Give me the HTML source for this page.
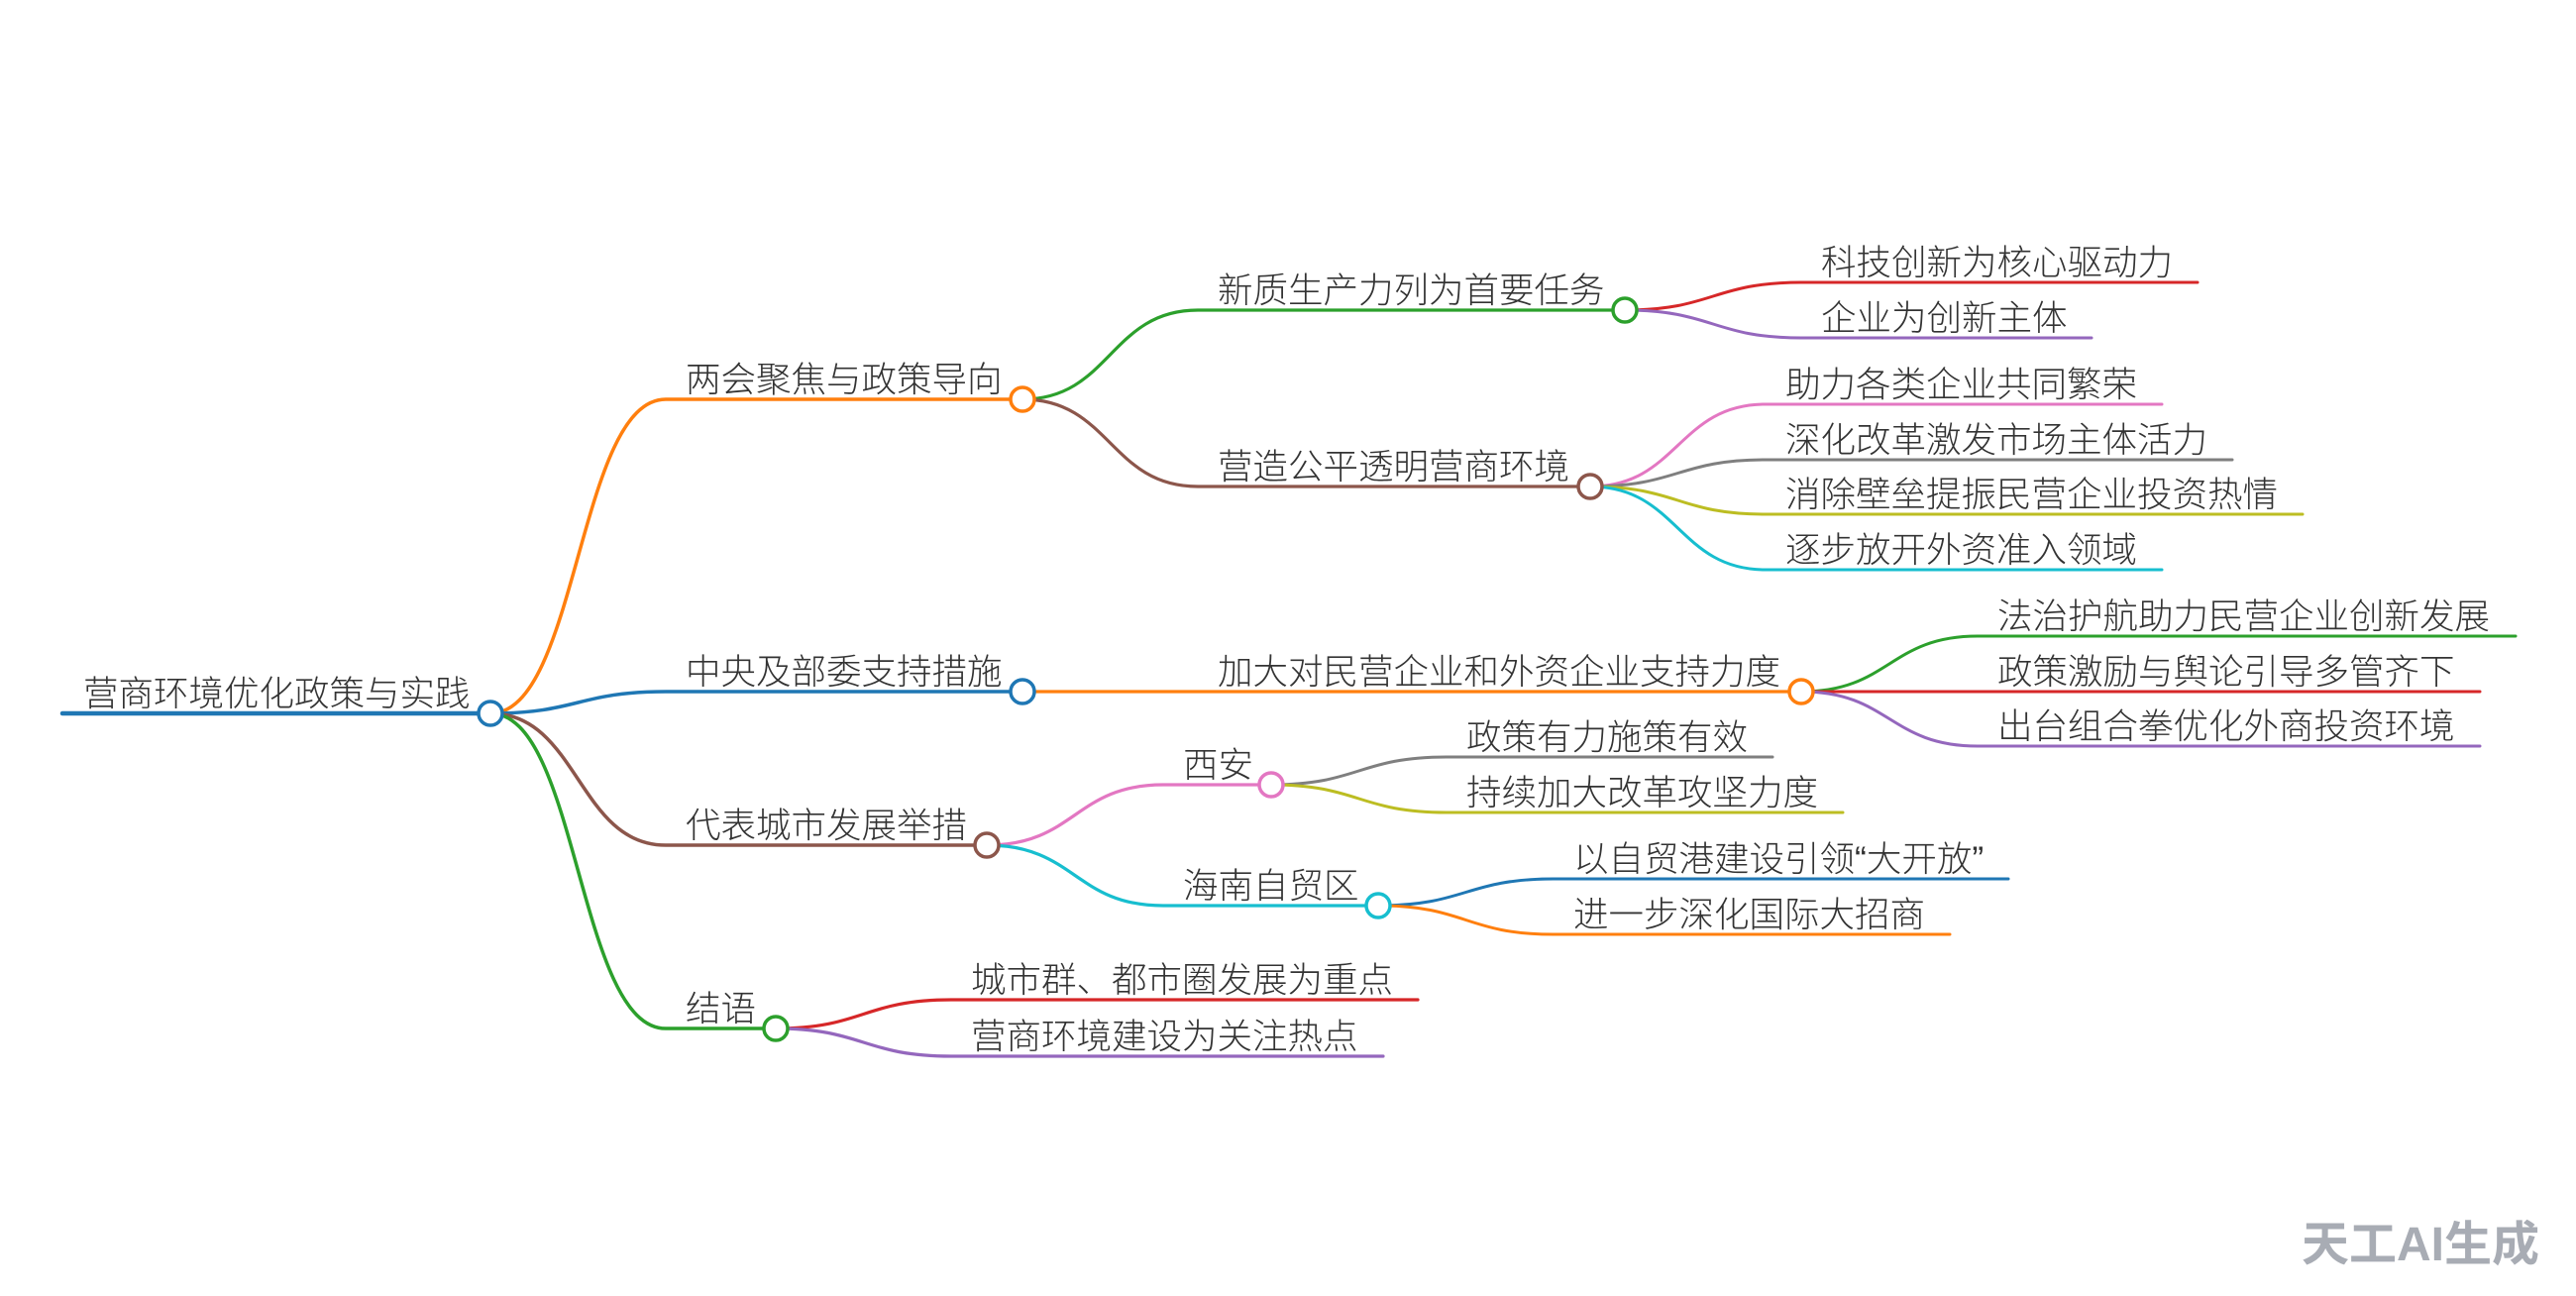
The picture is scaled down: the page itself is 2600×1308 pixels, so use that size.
<!DOCTYPE html>
<html>
<head>
<meta charset="utf-8">
<style>
  html,body{margin:0;padding:0;background:#fff;}
  body{width:2600px;height:1308px;overflow:hidden;}
  svg{display:block;}
  text{font-family:"Liberation Sans","Noto Sans CJK SC","WenQuanYi Zen Hei",sans-serif;font-size:35.5px;font-weight:300;fill:#333333;}
  .wm{font-size:48px;font-weight:bold;fill:#a8acb4;}
  path{fill:none;stroke-linecap:round;}
  circle{fill:#fff;stroke-width:3.5;}
</style>
</head>
<body>
<svg width="2600" height="1308" viewBox="0 0 2600 1308" xmlns="http://www.w3.org/2000/svg">
  <!-- root underline -->
  <path d="M63 720 H495" stroke="#1f77b4" stroke-width="4.5"/>

  <!-- level 1 connectors -->
  <path d="M495 720 C583.5 720 583.5 403 672 403 H1032" stroke="#ff7f0e" stroke-width="3.5"/>
  <path d="M495 720 C583.5 720 583.5 698 672 698 H1032" stroke="#1f77b4" stroke-width="3.5"/>
  <path d="M495 720 C583.5 720 583.5 853 672 853 H996" stroke="#8c564b" stroke-width="3.5"/>
  <path d="M495 720 C583.5 720 583.5 1038 672 1038 H783" stroke="#2ca02c" stroke-width="3.5"/>

  <!-- level 2 connectors -->
  <path d="M1032 403 C1120.5 403 1120.5 313 1209 313 H1640" stroke="#2ca02c" stroke-width="3.2"/>
  <path d="M1032 403 C1120.5 403 1120.5 491 1209 491 H1605" stroke="#8c564b" stroke-width="3.2"/>
  <path d="M1032 698 H1818" stroke="#ff7f0e" stroke-width="3.2"/>
  <path d="M996 853 C1085 853 1085 792 1174 792 H1283" stroke="#e377c2" stroke-width="3.2"/>
  <path d="M996 853 C1085 853 1085 914 1174 914 H1391" stroke="#17becf" stroke-width="3.2"/>
  <path d="M783 1038 C871.5 1038 871.5 1009 960 1009 H1431" stroke="#d62728" stroke-width="3.2"/>
  <path d="M783 1038 C871.5 1038 871.5 1066 960 1066 H1396" stroke="#9467bd" stroke-width="3.2"/>

  <!-- level 3 connectors -->
  <path d="M1640 313 C1729 313 1729 285 1818 285 H2218" stroke="#d62728" stroke-width="3"/>
  <path d="M1640 313 C1729 313 1729 341 1818 341 H2111" stroke="#9467bd" stroke-width="3"/>

  <path d="M1605 491 C1693.5 491 1693.5 408 1782 408 H2182" stroke="#e377c2" stroke-width="3"/>
  <path d="M1605 491 C1693.5 491 1693.5 464 1782 464 H2253" stroke="#7f7f7f" stroke-width="3"/>
  <path d="M1605 491 C1693.5 491 1693.5 519 1782 519 H2324" stroke="#bcbd22" stroke-width="3"/>
  <path d="M1605 491 C1693.5 491 1693.5 575 1782 575 H2182" stroke="#17becf" stroke-width="3"/>

  <path d="M1818 698 C1907 698 1907 642 1996 642 H2539" stroke="#2ca02c" stroke-width="3"/>
  <path d="M1818 698 C1907 698 1907 698 1996 698 H2503" stroke="#d62728" stroke-width="3"/>
  <path d="M1818 698 C1907 698 1907 753 1996 753 H2503" stroke="#9467bd" stroke-width="3"/>

  <path d="M1283 792 C1371.5 792 1371.5 764 1460 764 H1789" stroke="#7f7f7f" stroke-width="3"/>
  <path d="M1283 792 C1371.5 792 1371.5 820 1460 820 H1860" stroke="#bcbd22" stroke-width="3"/>

  <path d="M1391 914 C1479.5 914 1479.5 887 1568 887 H2027" stroke="#1f77b4" stroke-width="3"/>
  <path d="M1391 914 C1479.5 914 1479.5 943 1568 943 H1968" stroke="#ff7f0e" stroke-width="3"/>

  <!-- circles -->
  <circle cx="495" cy="720" r="12" stroke="#1f77b4"/>
  <circle cx="1032" cy="403" r="12" stroke="#ff7f0e"/>
  <circle cx="1032" cy="698" r="12" stroke="#1f77b4"/>
  <circle cx="996" cy="853" r="12" stroke="#8c564b"/>
  <circle cx="783" cy="1038" r="12" stroke="#2ca02c"/>
  <circle cx="1640" cy="313" r="12" stroke="#2ca02c"/>
  <circle cx="1605" cy="491" r="12" stroke="#8c564b"/>
  <circle cx="1818" cy="698" r="12" stroke="#ff7f0e"/>
  <circle cx="1283" cy="792" r="12" stroke="#e377c2"/>
  <circle cx="1391" cy="914" r="12" stroke="#17becf"/>

  <!-- texts -->
  <text x="84" y="712">营商环境优化政策与实践</text>

  <text x="692" y="395">两会聚焦与政策导向</text>
  <text x="692" y="690">中央及部委支持措施</text>
  <text x="692" y="845">代表城市发展举措</text>
  <text x="692" y="1030">结语</text>

  <text x="1229" y="305">新质生产力列为首要任务</text>
  <text x="1229" y="483">营造公平透明营商环境</text>
  <text x="1229" y="690">加大对民营企业和外资企业支持力度</text>
  <text x="1194" y="784">西安</text>
  <text x="1194" y="906">海南自贸区</text>
  <text x="980" y="1001">城市群、都市圈发展为重点</text>
  <text x="980" y="1058">营商环境建设为关注热点</text>

  <text x="1838" y="277">科技创新为核心驱动力</text>
  <text x="1838" y="333">企业为创新主体</text>
  <text x="1802" y="400">助力各类企业共同繁荣</text>
  <text x="1802" y="456">深化改革激发市场主体活力</text>
  <text x="1802" y="511">消除壁垒提振民营企业投资热情</text>
  <text x="1802" y="567">逐步放开外资准入领域</text>
  <text x="2016" y="634">法治护航助力民营企业创新发展</text>
  <text x="2016" y="690">政策激励与舆论引导多管齐下</text>
  <text x="2016" y="745">出台组合拳优化外商投资环境</text>
  <text x="1480" y="756">政策有力施策有效</text>
  <text x="1480" y="812">持续加大改革攻坚力度</text>
  <text x="1588" y="879">以自贸港建设引领“大开放”</text>
  <text x="1588" y="935">进一步深化国际大招商</text>

  <!-- watermark -->
  <text class="wm" x="2323" y="1272">天工AI生成</text>
</svg>
</body>
</html>
